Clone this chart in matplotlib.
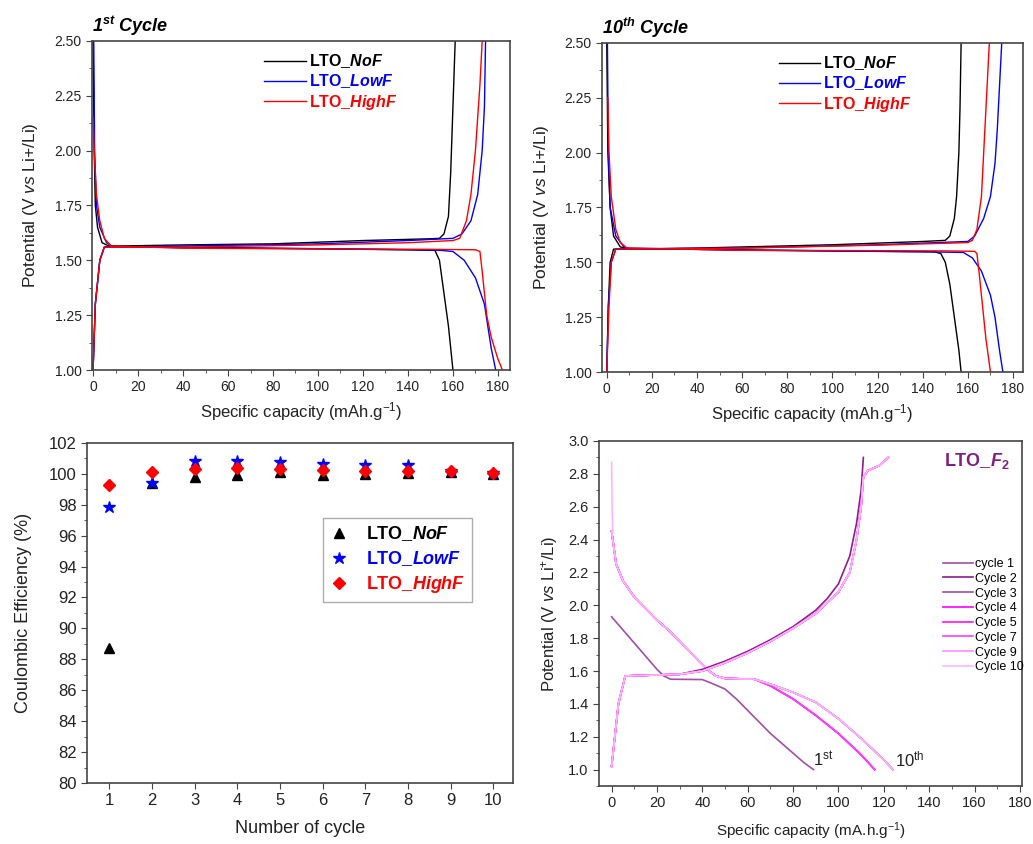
import numpy as np
import matplotlib.pyplot as plt
from matplotlib.ticker import MultipleLocator

plt.rcParams['font.family'] = ['Liberation Sans', 'DejaVu Sans']
plt.rcParams['mathtext.fontset'] = 'custom'
plt.rcParams['mathtext.rm'] = 'Liberation Sans'
plt.rcParams['mathtext.it'] = 'Liberation Sans:italic'
plt.rcParams['mathtext.bf'] = 'Liberation Sans:bold'
plt.rcParams['mathtext.bfit'] = 'Liberation Sans:bold:italic'
plt.rcParams['mathtext.default'] = 'regular'

# ---- 1st cycle (capacity mAh/g, potential V) ----
nof1_dis_x = [0, 0.5, 1, 2, 4, 7, 20, 60, 100, 140, 152, 154, 156, 158, 160]
nof1_dis_y = [2.5, 2.0, 1.75, 1.65, 1.58, 1.565, 1.56, 1.557, 1.553, 1.548, 1.545, 1.5, 1.35, 1.2, 1.0]
nof1_ch_x = [0, 1, 3, 5, 10, 40, 80, 120, 150, 154, 156, 158, 159, 160, 161]
nof1_ch_y = [1.0, 1.3, 1.5, 1.56, 1.565, 1.57, 1.575, 1.59, 1.598, 1.6, 1.62, 1.7, 1.9, 2.2, 2.5]
low1_dis_x = [0.3, 0.7, 1.5, 3, 6, 9, 40, 100, 140, 155, 160, 165, 170, 174, 175.5, 177, 179]
low1_dis_y = [2.5, 2.0, 1.75, 1.65, 1.58, 1.562, 1.558, 1.552, 1.548, 1.545, 1.54, 1.5, 1.42, 1.3, 1.2, 1.1, 1.0]
low1_ch_x = [0, 1, 3, 5, 40, 100, 140, 160, 164, 168, 171, 173, 174, 174.5]
low1_ch_y = [1.0, 1.3, 1.5, 1.56, 1.565, 1.575, 1.59, 1.6, 1.62, 1.68, 1.8, 2.0, 2.2, 2.5]
high1_dis_x = [0, 0.5, 1.5, 3, 5, 8, 40, 100, 150, 170, 172, 173, 175, 177, 180, 182]
high1_dis_y = [2.15, 2.0, 1.8, 1.68, 1.6, 1.565, 1.555, 1.552, 1.55, 1.548, 1.54, 1.45, 1.25, 1.15, 1.05, 1.0]
high1_ch_x = [0, 1, 3, 5, 40, 100, 140, 160, 163, 166, 168, 170, 172, 173]
high1_ch_y = [1.0, 1.3, 1.5, 1.56, 1.56, 1.57, 1.58, 1.59, 1.6, 1.68, 1.8, 2.0, 2.3, 2.5]

# ---- 10th cycle ----
nof10_dis_x = [0, 0.5, 1.5, 3, 6, 10, 60, 100, 145, 148, 150, 152, 154, 156, 157]
nof10_dis_y = [2.5, 2.0, 1.75, 1.62, 1.57, 1.562, 1.557, 1.552, 1.548, 1.54, 1.5, 1.4, 1.25, 1.1, 1.0]
nof10_ch_x = [0, 0.7, 1.5, 3, 40, 100, 140, 150, 152, 154, 155, 156, 156.5, 157]
nof10_ch_y = [1.0, 1.3, 1.5, 1.56, 1.565, 1.58, 1.595, 1.6, 1.62, 1.7, 1.8, 2.0, 2.2, 2.5]
low10_dis_x = [0.3, 0.7, 1.5, 4, 8, 60, 140, 158, 162, 166, 170, 172, 174, 175.5]
low10_dis_y = [2.5, 2.0, 1.75, 1.62, 1.565, 1.555, 1.548, 1.545, 1.52, 1.46, 1.35, 1.25, 1.1, 1.0]
low10_ch_x = [0, 0.7, 2, 4, 60, 120, 160, 163, 167, 170, 172, 173, 174, 175]
low10_ch_y = [1.0, 1.3, 1.5, 1.56, 1.565, 1.58, 1.595, 1.62, 1.7, 1.8, 1.95, 2.1, 2.3, 2.5]
high10_dis_x = [0.5, 1, 2, 4, 6, 9, 60, 150, 163, 164, 165, 166, 168, 170]
high10_dis_y = [2.25, 2.0, 1.8, 1.65, 1.59, 1.565, 1.555, 1.552, 1.55, 1.54, 1.45, 1.35, 1.15, 1.0]
high10_ch_x = [0, 1, 2, 4, 60, 120, 160, 162, 164, 166, 167, 168.5, 169.5]
high10_ch_y = [1.0, 1.3, 1.5, 1.56, 1.565, 1.578, 1.59, 1.6, 1.65, 1.8, 2.0, 2.3, 2.5]

# ---- Coulombic efficiency ----
cycles = [1, 2, 3, 4, 5, 6, 7, 8, 9, 10]
ce_nof = [88.7, 99.4, 99.8, 99.95, 100.1, 99.9, 100.0, 100.05, 100.1, 100.0]
ce_low = [97.85, 99.4, 100.8, 100.85, 100.75, 100.6, 100.55, 100.55, 100.2, 100.05]
ce_high = [99.25, 100.1, 100.3, 100.4, 100.3, 100.25, 100.15, 100.2, 100.2, 100.05]

# ---- LTO_F2 cycling ----
f2_labels = ['cycle 1', 'Cycle 2', 'Cycle 3', 'Cycle 4', 'Cycle 5', 'Cycle 7', 'Cycle 9', 'Cycle 10']
f2_colors = ['#a050a8', '#8e1e8e', '#a050a0', '#ff00ff', '#ff10ff', '#ff40ff', '#ff8cff', '#ffb4ff']
c1_dis_x = [0, 5, 10, 15, 20, 23, 26, 40, 45, 50, 55, 60, 65, 70, 75, 80, 85, 89]
c1_dis_y = [1.93, 1.85, 1.77, 1.69, 1.61, 1.57, 1.55, 1.548, 1.52, 1.49, 1.43, 1.36, 1.29, 1.22, 1.16, 1.10, 1.04, 1.0]
c1_ch_x = [0, 3, 6, 30, 40, 50, 60, 70, 80, 90, 95, 100, 105, 108, 110, 111]
c1_ch_y = [1.02, 1.4, 1.57, 1.58, 1.61, 1.66, 1.72, 1.79, 1.87, 1.97, 2.04, 2.13, 2.3, 2.5, 2.7, 2.9]
dis_long_x = [0, 1, 2, 5, 10, 15, 20, 25, 30, 35, 40, 43, 46, 50, 63, 70, 80, 90, 100, 110, 120, 124]
dis_long_y = [2.45, 2.35, 2.25, 2.15, 2.05, 1.98, 1.91, 1.85, 1.78, 1.71, 1.64, 1.6, 1.57, 1.555, 1.55, 1.52, 1.47, 1.41, 1.31, 1.19, 1.06, 1.0]
dis_short_x = [0, 1, 2, 5, 10, 15, 20, 25, 30, 35, 40, 43, 46, 50, 63, 70, 80, 90, 100, 110, 116]
dis_short_y = [2.45, 2.35, 2.25, 2.15, 2.05, 1.98, 1.91, 1.85, 1.78, 1.71, 1.64, 1.6, 1.57, 1.555, 1.55, 1.51, 1.43, 1.33, 1.22, 1.09, 1.0]
ch_x = [0, 3, 6, 30, 40, 50, 60, 70, 80, 90, 100, 105, 108, 110, 111, 113, 118, 122]
ch_y = [1.02, 1.4, 1.57, 1.58, 1.6, 1.65, 1.71, 1.78, 1.86, 1.95, 2.08, 2.2, 2.4, 2.6, 2.78, 2.82, 2.85, 2.9]

ink = '#222222'


def style(ax, xmaj, xmin, ymaj, ymin, size=10):
    for s in ax.spines.values():
        s.set_color('#444444')
        s.set_linewidth(1.2)
    ax.xaxis.set_major_locator(MultipleLocator(xmaj))
    ax.yaxis.set_major_locator(MultipleLocator(ymaj))
    if xmin:
        ax.xaxis.set_minor_locator(MultipleLocator(xmin))
    if ymin:
        ax.yaxis.set_minor_locator(MultipleLocator(ymin))
    ax.tick_params(which='both', direction='out', colors='#444444', labelcolor=ink,
                   labelsize=size, top=False, right=False)
    ax.tick_params(which='major', length=4)
    ax.tick_params(which='minor', length=2.5)


fig = plt.figure(figsize=(10.33, 8.44), dpi=100)

panels = [
    ([0.089, 0.5616, 0.405, 0.390], r'1$^{st}$ Cycle',
     [(nof1_dis_x, nof1_dis_y, nof1_ch_x, nof1_ch_y),
      (low1_dis_x, low1_dis_y, low1_ch_x, low1_ch_y),
      (high1_dis_x, high1_dis_y, high1_ch_x, high1_ch_y)], (-0.5, 185.5), 0.397),
    ([0.583, 0.5592, 0.4075, 0.390], r'10$^{th}$ Cycle',
     [(nof10_dis_x, nof10_dis_y, nof10_ch_x, nof10_ch_y),
      (low10_dis_x, low10_dis_y, low10_ch_x, low10_ch_y),
      (high10_dis_x, high10_dis_y, high10_ch_x, high10_ch_y)], (-2, 184.5), 0.404),
]
names = [r'LTO_$\mathbfit{NoF}$', r'LTO_$\mathbfit{LowF}$', r'LTO_$\mathbfit{HighF}$']
cols = ['#000000', '#0000ff', '#ff0000']

for rect, title, curves, xl, lx in panels:
    ax = fig.add_axes(rect)
    for (dx, dy, cx, cy), c, n in zip(curves, cols, names):
        ax.plot(dx, dy, color=c, lw=1.0, label=n)
        ax.plot(cx, cy, color=c, lw=1.0)
    ax.set_xlim(*xl)
    ax.set_ylim(1.0, 2.5)
    style(ax, 20, 10, 0.25, 0.125)
    ax.yaxis.set_major_formatter(plt.FormatStrFormatter('%.2f'))
    ax.set_xlabel(r'Specific capacity (mAh.g$^{-1}$)', fontsize=12, color=ink)
    ax.set_ylabel(r'Potential (V $\it{vs}$ Li+/Li)', fontsize=12.5, color=ink, labelpad=10)
    ax.text(0.0, 1.01, title, transform=ax.transAxes, fontsize=13,
            fontweight='bold', style='italic', ha='left', va='bottom')
    leg = ax.legend(loc='upper left', bbox_to_anchor=(lx, 0.985), frameon=False,
                    prop={'size': 11.5, 'weight': 'bold'}, handlelength=2.6,
                    handletextpad=0.2, labelspacing=0.15, borderaxespad=0)
    for t, c in zip(leg.get_texts(), cols):
        t.set_color(c)

# Coulombic efficiency
ax3 = fig.add_axes([0.0842, 0.0723, 0.4124, 0.403])
ax3.plot(cycles, ce_nof, '^', color='black', ms=7, ls='none', label=names[0])
ax3.plot(cycles, ce_low, '*', color='#0000ff', ms=9, ls='none', label=names[1])
ax3.plot(cycles, ce_high, 'D', color='#ff0000', ms=6, ls='none', label=names[2])
ax3.set_xlim(0.48, 10.46)
ax3.set_ylim(80, 102)
style(ax3, 1, None, 2, 1, size=12)
ax3.set_xlabel('Number of cycle', fontsize=13, color=ink, labelpad=8)
ax3.set_ylabel('Coulombic Efficiency (%)', fontsize=13, color=ink, labelpad=12)
leg3 = ax3.legend(loc='upper left', bbox_to_anchor=(0.555, 0.78), fancybox=False,
                  edgecolor='#999999', prop={'size': 13, 'weight': 'bold'},
                  handlelength=1.0, handletextpad=1.0, labelspacing=0.35,
                  borderaxespad=0, borderpad=0.35)
leg3.get_frame().set_linewidth(1.0)
for t, c in zip(leg3.get_texts(), cols):
    t.set_color(c)

# LTO_F2
ax4 = fig.add_axes([0.580, 0.0687, 0.4095, 0.4088])
for i, (lab, c) in enumerate(zip(f2_labels, f2_colors)):
    if i == 0:
        ax4.plot(c1_dis_x, c1_dis_y, color=c, lw=1.2, label=lab)
        continue
    if i in (3, 4, 5):
        ax4.plot(dis_short_x, dis_short_y, color=c, lw=1.2, label=lab)
    else:
        ax4.plot(dis_long_x, dis_long_y, color=c, lw=1.2, label=lab)
ax4.plot(c1_ch_x, c1_ch_y, color=f2_colors[1], lw=1.2)
for c in f2_colors[2:]:
    ax4.plot(ch_x, ch_y, color=c, lw=1.2)
ax4.plot([0, 0.2, 0.5], [2.87, 2.6, 2.45], color=f2_colors[-1], lw=1.2)
ax4.set_xlim(-5.5, 181)
ax4.set_ylim(0.9, 3.0)
style(ax4, 20, 10, 0.2, 0.1, size=10.5)
ax4.yaxis.set_major_formatter(plt.FormatStrFormatter('%.1f'))
ax4.set_xlabel(r'Specific capacity (mA.h.g$^{-1}$)', fontsize=11, color=ink, labelpad=7)
ax4.set_ylabel(r'Potential (V $\it{vs}$ Li$^{+}$/Li)', fontsize=12, color=ink, labelpad=6)
ax4.legend(loc='upper left', bbox_to_anchor=(0.80, 0.675), frameon=False,
           prop={'size': 9}, handlelength=2.4, handletextpad=0.2,
           labelspacing=0.22, borderaxespad=0)
ax4.text(0.97, 0.97, r'LTO_$\mathbfit{F}_{\mathbf{2}}$', transform=ax4.transAxes,
         color='#80207f', fontsize=13, fontweight='bold', ha='right', va='top')
ax4.text(89, 1.0, r'1$^{st}$', fontsize=12, color=ink, ha='left', va='bottom')
ax4.text(125, 1.0, r'10$^{th}$', fontsize=12, color=ink, ha='left', va='bottom')

fig.savefig('out.png', dpi=100)
